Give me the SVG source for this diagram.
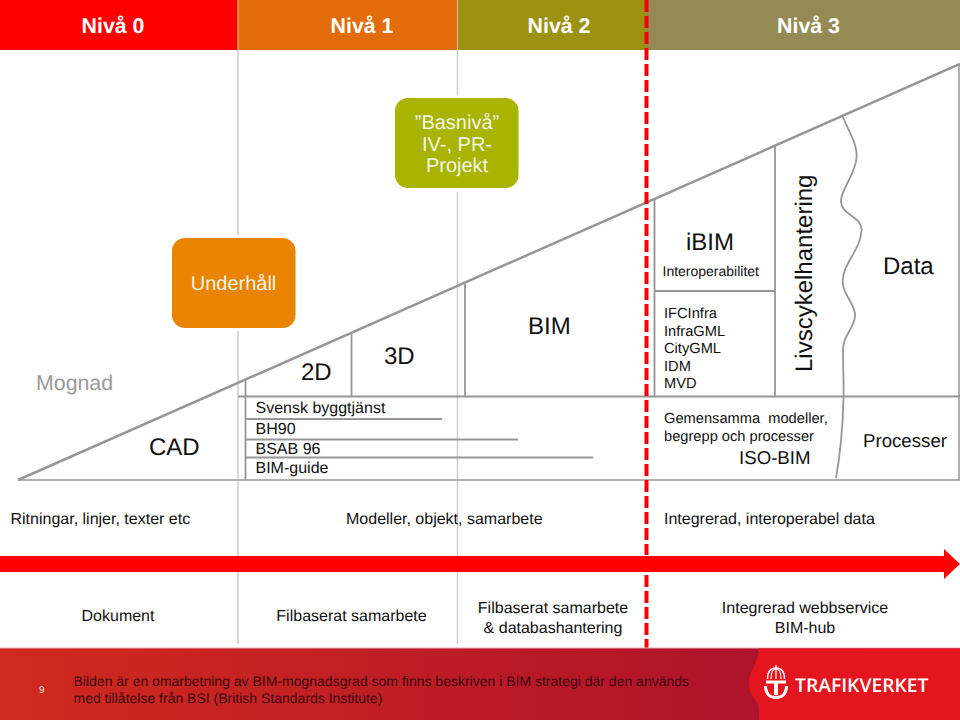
<svg xmlns="http://www.w3.org/2000/svg" width="960" height="720" viewBox="0 0 960 720">
<style>
text{font-family:"Liberation Sans",Arial,sans-serif;fill:#111;text-rendering:geometricPrecision}
.h{font-size:21.33px;font-weight:bold;fill:#fff;text-anchor:middle}
.w{font-size:20px;fill:#f4f4e8;text-anchor:middle}
.l{font-size:24px}
.m{font-size:18.67px}
.s{font-size:16px}
.t{font-size:14.67px}
.c{text-anchor:middle}
.f{font-size:14px;fill:#3c0710}
.g{stroke:#969696;stroke-width:1.8;fill:none}
.v{stroke:#cdcdcd;stroke-width:1.5;fill:none}
</style>
<defs>
<linearGradient id="fg" x1="0" x2="1" y1="0" y2="0"><stop offset="0" stop-color="#d02a1e"/><stop offset="1" stop-color="#a60c2e"/></linearGradient>
</defs>
<rect width="960" height="720" fill="#fff"/>
<g id="header">
<rect x="0" y="0" width="238" height="50" fill="#ff0000"/>
<rect x="238" y="0" width="219" height="50" fill="#e36c0a"/>
<rect x="457" y="0" width="189" height="50" fill="#9c9110"/>
<rect x="646" y="0" width="314" height="50" fill="#948b54"/>
<path d="M238 0V50M457.500 0V50" stroke="#d8c8a0" stroke-width="1" fill="none"/>
<text class="h" x="113" y="32.500">Nivå 0</text>
<text class="h" x="362" y="32.500">Nivå 1</text>
<text class="h" x="559" y="32.500">Nivå 2</text>
<text class="h" x="808.500" y="32.500">Nivå 3</text>
</g>
<g id="connectors">
<path class="v" d="M238 50V235M238 331V644M457.500 50V95M457.500 192V556M457.500 572V644"/>
<path class="g" style="stroke-width:2.500" d="M18 480L960 64"/>
<path class="g" style="stroke-width:1.500" d="M959 64V480M18 480H960"/>
<path class="g" d="M238 396.500H960M245.500 380V480M351.500 334V396M465 284V396M654.500 199V396M775 146V396M654.500 291H775M245.500 419H442M245.500 439.500H518M245.500 457.500H593"/>
<path class="g" d="M842.700 116.500C850 134 858 146 856.500 158C855 176 840 190 841 202C842 216 862 216 861.500 230C861 250 842 264 842.700 282C843 296 856 304 855 316C854 330 843 334 843 350C843 370 844 385 843.500 397C843 420 842 445 836 478"/>
<path d="M646.500 0V555M646.500 575V648" fill="none" stroke="#f5000a" stroke-width="4" stroke-dasharray="12 4"/>
<path id="arrow" d="M0 556H944V549L960 564L944 579V572H0Z" fill="#ff0000"/>
</g>
<g id="basniva">
<rect x="395" y="98" width="123.500" height="90" rx="13" fill="#a8b400"/>
<text class="w" x="457" y="129">”Basnivå”</text>
<text class="w" x="457" y="150.500">IV-, PR-</text>
<text class="w" x="457" y="172">Projekt</text>
</g>
<g id="underhall">
<rect x="172" y="238" width="123.500" height="90" rx="13" fill="#e98300"/>
<text class="w" x="233.500" y="289.500">Underhåll</text>
</g>
<g id="mognad"><text x="36" y="390" font-size="21.330" style="fill:#9a9a9a">Mognad</text></g>
<g id="cad"><text class="l" x="149" y="455">CAD</text></g>
<g id="d2"><text class="l" x="301" y="380">2D</text></g>
<g id="d3"><text class="l" x="384" y="364">3D</text></g>
<g id="bim"><text class="l" x="528" y="334">BIM</text></g>
<g id="ibim">
<text class="l c" x="710" y="250">iBIM</text>
<text class="t" x="662.500" y="276" style="font-size:14px">Interoperabilitet</text>
<text class="t" x="664" y="318">IFCInfra</text>
<text class="t" x="664" y="335.500">InfraGML</text>
<text class="t" x="664" y="353">CityGML</text>
<text class="t" x="664" y="370.500">IDM</text>
<text class="t" x="664" y="388">MVD</text>
</g>
<g id="livscykel"><text class="l" transform="translate(811.500 372) rotate(-90)">Livscykelhantering</text></g>
<g id="data"><text class="l" x="883" y="274">Data</text></g>
<g id="list">
<text class="s" x="255.500" y="413">Svensk byggtjänst</text>
<text class="s" x="255.500" y="434">BH90</text>
<text class="s" x="255.500" y="454">BSAB 96</text>
<text class="s" x="255.500" y="472.500">BIM-guide</text>
</g>
<g id="gemensamma">
<text class="t" x="664" y="423" xml:space="preserve">Gemensamma  modeller,</text>
<text class="t" x="664" y="441">begrepp och processer</text>
<text class="m" x="739" y="464">ISO-BIM</text>
</g>
<g id="processer"><text class="m" x="863" y="447">Processer</text></g>
<g id="row1">
<text class="s" x="10.500" y="524">Ritningar, linjer, texter etc</text>
<text class="s" x="346" y="524">Modeller, objekt, samarbete</text>
<text class="s" x="664" y="524">Integrerad, interoperabel data</text>
</g>
<g id="row2">
<text class="s c" x="118" y="621">Dokument</text>
<text class="s c" x="351.500" y="621">Filbaserat samarbete</text>
<text class="s c" x="553" y="613">Filbaserat samarbete</text>
<text class="s c" x="553" y="633">&amp; databashantering</text>
<text class="s c" x="805" y="613">Integrerad webbservice</text>
<text class="s c" x="805" y="633">BIM-hub</text>
</g>
<g id="footer">
<rect x="0" y="648" width="960" height="72" fill="url(#fg)"/>
<rect x="0" y="647.500" width="960" height="1" fill="#e8b0b0"/>
<path d="M759 648.500H960V720H759V708C759 700 749 697 749 683C749 670 759 662 759 648.500Z" fill="#e3151f"/>
<text x="39" y="693" font-size="10" style="fill:#f0d8d8">9</text>
<text class="f" x="73.500" y="686">Bilden är en omarbetning av BIM-mognadsgrad som finns beskriven i BIM strategi där den används</text>
<text class="f" x="73.500" y="703">med tillåtelse från BSI (British Standards Institute)</text>
</g>
<g id="logo">
<path d="M767.500 679C767.500 671 771 668 776 668C781 668 784.500 671 784.500 679" fill="none" stroke="#fff" stroke-width="1.500"/>
<path d="M771 679C771 672 773 669 776 669C779 669 781 672 781 679M776 669V679" fill="none" stroke="#fff" stroke-width="1.200"/>
<path d="M776 665V668" stroke="#fff" stroke-width="1.500"/>
<path d="M766 680.500H786V683.500H778V695H774V683.500H766Z" fill="#fff"/>
<path d="M765.500 686C765.500 694 770 697.500 776 697.500C782 697.500 786.500 694 786.500 686" fill="none" stroke="#fff" stroke-width="3"/>
<text x="795" y="691.500" font-size="19" font-weight="600" textLength="133.500" lengthAdjust="spacingAndGlyphs" style="font-family:'Open Sans','Liberation Sans',sans-serif;fill:#fff">TRAFIKVERKET</text>
</g>
</svg>
